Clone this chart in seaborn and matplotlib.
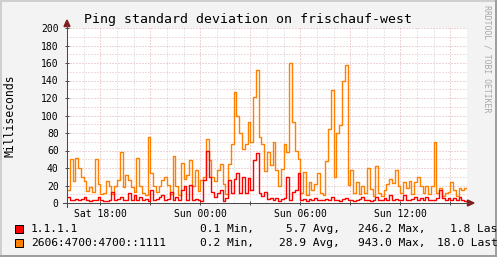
import numpy as np
import pandas as pd
import matplotlib
matplotlib.use("Agg")
import matplotlib.pyplot as plt
import seaborn as sns
from matplotlib.patches import Rectangle, Polygon
from matplotlib.lines import Line2D

# ---------------- data ----------------
title = "Ping standard deviation on frischauf-west"
y_label = "Milliseconds"
watermark = "RRDTOOL / TOBI OETIKER"

series_names = ["1.1.1.1", "2606:4700:4700::1111"]
series_colors = ["#ff0000", "#ff8000"]

step_minutes = 10  # samples start Sat 16:00

v4_values = [7, 3, 3, 5, 3, 5, 7, 3, 2, 3, 3, 7, 3, 2, 2, 3, 13, 3, 5, 7,
             4, 3, 11, 3, 9, 3, 7, 3, 5, 2, 15, 3, 5, 7, 9, 3, 5, 13, 3, 7,
             3, 15, 19, 3, 21, 4, 5, 3, 2, 26, 60, 30, 13, 7, 11, 15, 2, 6, 26, 11,
             28, 34, 11, 30, 11, 29, 15, 49, 57, 11, 8, 13, 5, 6, 3, 6, 2, 5, 6, 30,
             3, 13, 15, 34, 3, 5, 2, 5, 3, 6, 3, 4, 3, 5, 3, 7, 3, 4, 2, 5,
             6, 3, 4, 2, 3, 5, 7, 4, 3, 2, 4, 7, 3, 3, 6, 4, 9, 3, 5, 3,
             4, 9, 3, 3, 5, 7, 3, 6, 3, 7, 3, 4, 3, 6, 15, 6, 3, 6, 3, 6,
             3, 7, 4, 2]

v6_values = [15, 50, 25, 51, 40, 30, 25, 14, 18, 13, 50, 22, 10, 12, 25, 19, 10, 19, 26, 58,
             18, 32, 26, 18, 13, 52, 20, 12, 9, 75, 34, 19, 13, 19, 26, 30, 21, 10, 54, 19,
             9, 46, 28, 32, 49, 20, 38, 14, 26, 30, 73, 49, 30, 25, 38, 45, 22, 10, 45, 67,
             127, 100, 80, 62, 68, 93, 70, 121, 152, 76, 68, 37, 58, 43, 70, 38, 20, 39, 68, 58,
             160, 93, 60, 50, 12, 36, 9, 24, 15, 22, 34, 12, 9, 48, 85, 129, 30, 80, 89, 140,
             158, 21, 38, 12, 24, 10, 19, 12, 40, 16, 8, 42, 11, 8, 15, 22, 28, 23, 38, 20,
             11, 24, 17, 25, 10, 24, 30, 20, 12, 19, 10, 19, 70, 11, 17, 8, 11, 13, 24, 15,
             8, 17, 15, 17]

stat_min = ["0.1", "0.2"]
stat_avg = ["5.7", "28.9"]
stat_max = ["246.2", "943.0"]
stat_last = ["1.8", "18.0"]

x_major_hours = [2, 5, 8, 11, 14, 17, 20, 23]
x_label_hours = [2, 8, 14, 20]
x_tick_labels = ["Sat 18:00", "Sun 00:00", "Sun 06:00", "Sun 12:00"]
y_major = list(range(0, 201, 20))
y_minor = list(range(10, 200, 20))

# ---------------- figure ----------------
W, H = 497, 257
plt.rcParams["font.family"] = ["DejaVu Sans Mono", "DejaVu Sans"]

def fx(px):
    return px / W

def fy(py):
    return 1 - py / H

fig = plt.figure(figsize=(W / 100, H / 100), dpi=100, facecolor="#f3f3f3")
ax = fig.add_axes([fx(67), fy(203), 400 / W, 175 / H])
ax.set_facecolor("white")

rows = []
for name, vals in zip(series_names, [v4_values, v6_values]):
    ext = list(vals) + [vals[-1]]
    for i, v in enumerate(ext):
        rows.append({"hours": i * step_minutes / 60.0, "value": v, "series": name})
df = pd.DataFrame(rows)

sns.lineplot(data=df, x="hours", y="value", hue="series",
             hue_order=[series_names[1], series_names[0]],
             palette=dict(zip(series_names, series_colors)),
             drawstyle="steps-post", linewidth=1.0, legend=False,
             estimator=None, sort=False, ax=ax)

ax.set_xlim(0, 24)
ax.set_ylim(0, 200)
for s in ax.spines.values():
    s.set_visible(False)
ax.set_xlabel("")
ax.set_ylabel("")

ax.set_xticks(x_major_hours)
lab_map = dict(zip(x_label_hours, x_tick_labels))
ax.set_xticklabels([lab_map.get(h, "") for h in x_major_hours])
ax.set_xticks(range(1, 24), minor=True)
ax.set_yticks(y_major)
ax.set_yticks(y_minor, minor=True)

dot = (0, (1, 2))
ax.grid(which="major", axis="x", color="#dfaaaa", linestyle=dot, linewidth=0.72)
ax.grid(which="minor", axis="x", color="#cfcfcf", linestyle=dot, linewidth=0.72)
ax.grid(which="major", axis="y", color="#dfaaaa", linestyle=dot, linewidth=0.72)
ax.grid(which="minor", axis="y", color="#e6b8b8", linestyle=dot, linewidth=0.72)
ax.set_axisbelow(True)

ax.tick_params(axis="both", which="major", length=3, width=0.72, color="#4a4a4a",
               direction="inout", labelsize=7)
ax.tick_params(axis="both", which="minor", length=0)
ax.tick_params(axis="y", pad=4.5)
ax.tick_params(axis="x", pad=3)

axis_col = "#4a4a4a"
fig.add_artist(Line2D([fx(67), fx(67)], [fy(207), fy(25)], color=axis_col, lw=0.75))
fig.add_artist(Line2D([fx(63), fx(469)], [fy(203), fy(203)], color=axis_col, lw=0.75))
fig.add_artist(Polygon([[fx(67), fy(20)], [fx(64), fy(26.5)], [fx(70), fy(26.5)]],
                       closed=True, color="#7f1f1f", transform=fig.transFigure))
fig.add_artist(Polygon([[fx(474), fy(203)], [fx(467.5), fy(200)], [fx(467.5), fy(206)]],
                       closed=True, color="#7f1f1f", transform=fig.transFigure))

# title and labels
fig.text(fx(248), fy(19), title, ha="center", va="center", fontsize=9.55)
fig.text(fx(10), fy(115.5), y_label, ha="center", va="center", rotation=90, fontsize=8.3)
fig.text(fx(487.5), fy(5), watermark, ha="center", va="top", rotation=-90,
         fontsize=5.9, color="#a8a8a8")

# legend
row_y = [229, 243.3]
last_x = [450, 436.7]
for k in range(2):
    y = row_y[k]
    fig.add_artist(Rectangle((fx(15), fy(y + 4)), 8 / W, 8 / H, facecolor=series_colors[k],
                             edgecolor="black", lw=0.72, transform=fig.transFigure))
    fig.text(fx(30.7), fy(y), series_names[k], ha="left", va="center", fontsize=8.1)
    fig.text(fx(200), fy(y), f"{stat_min[k]} Min,", ha="left", va="center", fontsize=8.1)
    fig.text(fx(340), fy(y), f"{stat_avg[k]} Avg,", ha="right", va="center", fontsize=8.1)
    fig.text(fx(358.3), fy(y), f"{stat_max[k]} Max,", ha="left", va="center", fontsize=8.1)
    fig.text(fx(last_x[k]), fy(y), f"{stat_last[k]} Last", ha="left", va="center", fontsize=8.1)

# frame shading
fig.add_artist(Rectangle((0, fy(2)), 1, 2 / H, facecolor="#cfcfcf", edgecolor="none",
                         transform=fig.transFigure))
fig.add_artist(Rectangle((0, 0), 2 / W, 1, facecolor="#cfcfcf", edgecolor="none",
                         transform=fig.transFigure))
fig.add_artist(Rectangle((0, 0), 1, 2 / H, facecolor="#9e9e9e", edgecolor="none",
                         transform=fig.transFigure))
fig.add_artist(Rectangle((fx(495), 0), 2 / W, 1, facecolor="#9e9e9e", edgecolor="none",
                         transform=fig.transFigure))

fig.savefig("out.png", dpi=100, facecolor=fig.get_facecolor())
